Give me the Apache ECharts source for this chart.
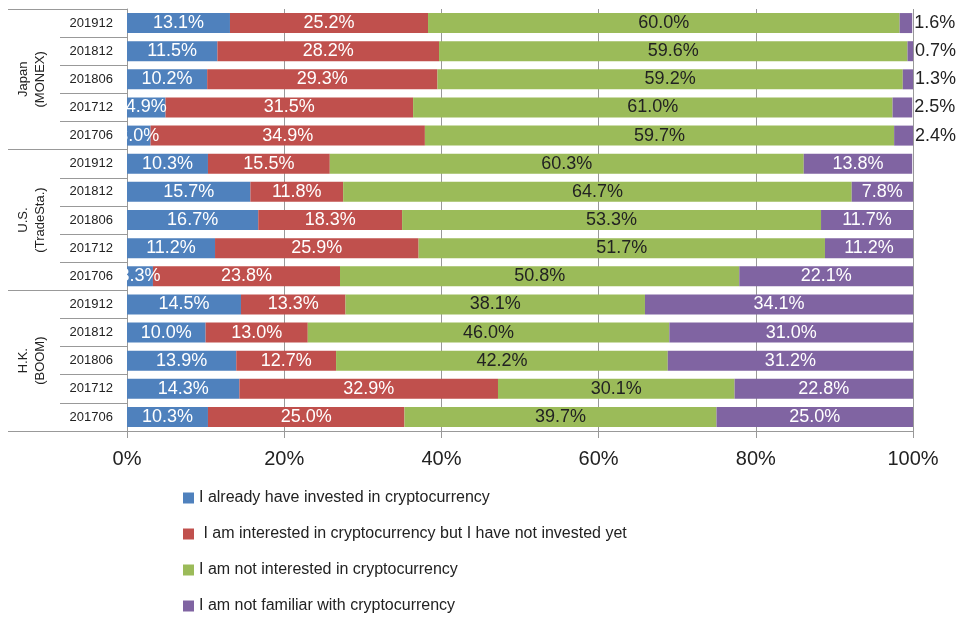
<!DOCTYPE html>
<html>
<head>
<meta charset="utf-8">
<script src="https://cdn.jsdelivr.net/npm/echarts@6/dist/echarts.min.js"></script>
<style>
  html, body { margin: 0; padding: 0; background: #fff; }
  #chart { width: 960px; height: 618px; }
</style>
</head>
<body>
<div id="chart"></div>
<script>
// rows listed top to bottom, as in the picture
const groups = ['Japan\n(MONEX)', 'U.S.\n(TradeSta.)', 'H.K.\n(BOOM)'];
const periods = ['201912', '201812', '201806', '201712', '201706'];

const invested = [13.1, 11.5, 10.2, 4.9, 3.0, 10.3, 15.7, 16.7, 11.2, 3.3, 14.5, 10.0, 13.9, 14.3, 10.3];
const interested = [25.2, 28.2, 29.3, 31.5, 34.9, 15.5, 11.8, 18.3, 25.9, 23.8, 13.3, 13.0, 12.7, 32.9, 25.0];
const notInterested = [60.0, 59.6, 59.2, 61.0, 59.7, 60.3, 64.7, 53.3, 51.7, 50.8, 38.1, 46.0, 42.2, 30.1, 39.7];
const notFamiliar = [1.6, 0.7, 1.3, 2.5, 2.4, 13.8, 7.8, 11.7, 11.2, 22.1, 34.1, 31.0, 31.2, 22.8, 25.0];

const seriesNames = [
  'I already have invested in cryptocurrency',
  ' I am interested in cryptocurrency but I have not invested yet',
  'I am not interested in cryptocurrency',
  'I am not familiar with cryptocurrency'
];
const colors = ['#4F81BD', '#C0504D', '#9BBB59', '#8064A2'];

const rowKeys = [];
groups.forEach((g, gi) => periods.forEach(p => rowKeys.push(gi + '|' + p)));

const font = 'Liberation Sans, Arial, sans-serif';
const chart = echarts.init(document.getElementById('chart'));

function makeSeries(name, values, idx) {
  return {
    name: name,
    type: 'bar',
    stack: 'all',
    yAxisIndex: 0,
    barWidth: 20,
    itemStyle: { color: colors[idx] },
    label: {
      show: true,
      position: 'inside',
      fontFamily: font,
      fontSize: 18,
      color: idx === 2 ? '#222' : '#fff',
      formatter: p => p.value.toFixed(1) + '%'
    },
    data: values.map((v, i) => {
      // Japan's purple slivers carry their label outside, on the right
      if (idx === 3 && i < 5) {
        return { value: v, label: { position: 'right', distance: 2, color: '#222' } };
      }
      return v;
    })
  };
}

chart.setOption({
  animation: false,
  textStyle: { fontFamily: font },
  grid: { left: 127, right: 47, top: 9, bottom: 187 },
  legend: {
    orient: 'vertical',
    left: 183,
    top: 490,
    height: 128,
    padding: 0,
    itemWidth: 11,
    itemHeight: 11,
    itemGap: 20,
    icon: 'rect',
    textStyle: { fontFamily: font, fontSize: 16, color: '#222' },
    data: seriesNames
  },
  xAxis: {
    type: 'value',
    min: 0,
    max: 100,
    interval: 20,
    axisLine: { show: true, lineStyle: { color: '#999' } },
    axisTick: { show: true, length: 7, lineStyle: { color: '#999' } },
    splitLine: { show: true, lineStyle: { color: '#999' } },
    axisLabel: { fontSize: 20, color: '#222', margin: 18, formatter: '{value}%' }
  },
  yAxis: [
    {
      type: 'category',
      inverse: true,
      data: rowKeys,
      axisLine: { show: true, lineStyle: { color: '#999' } },
      axisTick: { show: true, length: 67, lineStyle: { color: '#999' } },
      axisLabel: {
        fontSize: 13,
        color: '#222',
        margin: 14,
        formatter: v => v.split('|')[1]
      }
    },
    {
      type: 'category',
      inverse: true,
      position: 'left',
      data: groups,
      axisLine: { show: false },
      axisTick: { show: true, length: 119, lineStyle: { color: '#999' } },
      axisLabel: {
        rotate: 90,
        fontSize: 13,
        lineHeight: 17,
        color: '#222',
        margin: 78
      }
    }
  ],
  series: [
    makeSeries(seriesNames[0], invested, 0),
    makeSeries(seriesNames[1], interested, 1),
    makeSeries(seriesNames[2], notInterested, 2),
    makeSeries(seriesNames[3], notFamiliar, 3)
  ]
});
</script>
</body>
</html>
